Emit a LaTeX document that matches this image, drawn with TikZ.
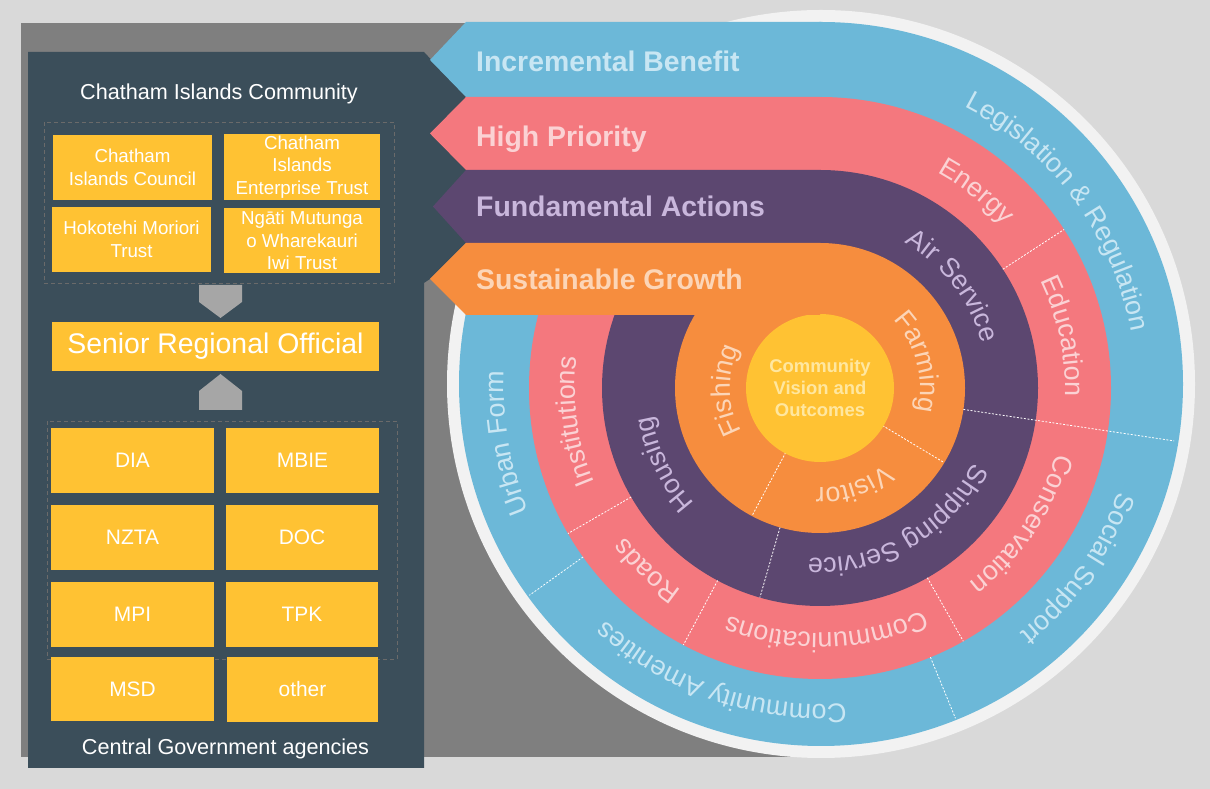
\documentclass[tikz,border=0pt]{standalone}
\usepackage{fontspec}
\setmainfont{Liberation Sans}
\usetikzlibrary{decorations.text}
\definecolor{bg}{HTML}{D9D9D9}
\definecolor{grayR}{HTML}{7F7F7F}
\definecolor{panel}{HTML}{3B4E5A}
\definecolor{yel}{HTML}{FFC233}
\definecolor{arrowG}{HTML}{A6A6A6}
\definecolor{dashG}{HTML}{6A6A6A}
\definecolor{ringW}{HTML}{F2F2F2}
\definecolor{bandB}{HTML}{6CB8D8}
\definecolor{bandP}{HTML}{F4787E}
\definecolor{bandU}{HTML}{5C4770}
\definecolor{bandO}{HTML}{F68D3E}
\definecolor{txtB}{HTML}{C8E6F3}
\definecolor{txtP}{HTML}{FBD2D4}
\definecolor{txtU}{HTML}{C9B7DC}
\definecolor{txtO}{HTML}{FCD5B7}
\definecolor{txtY}{HTML}{FFE7A0}
\newcommand\ringfont{\fontsize{27}{32}\selectfont}
\newcommand\ringtext[4]{\path[decorate,decoration={text along path,text align=center,text={|\ringfont\color{#3}|#4}}] ([shift={(#2+70:#1)}]820,401) arc[start angle=#2+70,end angle=#2-70,radius=#1];}
\begin{document}
\begin{tikzpicture}[x=1bp,y=1bp,
  ybox/.style={fill=yel,text=white,inner sep=0pt,align=center},
  smallbox/.style={ybox,font=\fontsize{18.8}{22.5}\selectfont},
  agbox/.style={ybox,font=\fontsize{21}{25}\selectfont},
  dashbox/.style={draw=dashG,line width=0.8bp,dash pattern=on 4bp off 3bp},
  title/.style={text=white,inner sep=0pt,anchor=base,font=\fontsize{21.7}{26}\selectfont},
  banner/.style={inner sep=0pt,anchor=base west,font=\bfseries\fontsize{28.5}{34}\selectfont},
  sep/.style={draw=white,line width=0.8bp,dash pattern=on 2bp off 1.6bp}]
\useasboundingbox (0,0) rectangle (1210,789);
\fill[bg] (0,0) rectangle (1210,789);
\begin{scope}[yshift=789bp,y=-1bp]
  \fill[grayR] (21,22.6) rectangle (821,757);
\end{scope}
% rings
\fill[ringW] (821,405) circle[radius=374];
\fill[bandB] (821,405) circle[radius=362];
\fill[bandP] (820,401) circle[radius=291];
\fill[bandU] (820,401) circle[radius=218];
\fill[bandO] (820,401) circle[radius=145];
\begin{scope}[shift={(820,401)}]
  \draw[sep] (33:218) -- (33:291);
  \draw[sep] (-8.5:145) -- (-8.5:358);
  \draw[sep] (-31:73) -- (-31:145);
  \draw[sep] (-118:73) -- (-118:145);
  \draw[sep] (-106:145) -- (-106:218);
  \draw[sep] (-150:218) -- (-150:291);
  \draw[sep] (-118:218) -- (-118:291);
  \draw[sep] (-60.5:218) -- (-60.5:291);
  \draw[sep] (-144.5:291) -- (-144.5:357);
  \draw[sep] (-67.7:291) -- (-67.7:357);
\end{scope}
\node[circle,fill=yel,minimum size=148bp,inner sep=0pt,align=center,text=txtY,font=\bfseries\fontsize{18.5}{22}\selectfont] (core) at (820,401) {Community\\Vision and\\Outcomes};
% left panel and strips
\begin{scope}[yshift=789bp,y=-1bp]
  \fill[panel] (28,52) -- (424,52) -- (466,97) -- (466,243) -- (430,279) -- (424,283) -- (424,768) -- (28,768) -- cycle;
  \draw[dashbox] (44,122) rectangle (394,283);
  \draw[dashbox] (47,421) rectangle (397,659);
  \fill[arrowG] (199,285) -- (242,285) -- (242,302) -- (220.5,318) -- (199,302) -- cycle;
  \fill[arrowG] (199,410) -- (242,410) -- (242,391) -- (220.5,374) -- (199,391) -- cycle;
  \node[title] (community) at (219,100) {Chatham Islands Community};
  \node[title] (central) at (225.5,755) {Central Government agencies};
  \node[smallbox,minimum width=159bp,minimum height=65bp] (cic) at (132.5,167.5) {Chatham\\Islands Council};
  \node[smallbox,minimum width=156bp,minimum height=66bp] (ciet) at (302,167) {Chatham\\Islands\\Enterprise Trust};
  \node[smallbox,minimum width=159bp,minimum height=65bp] (hmt) at (131.5,239.5) {Hokotehi Moriori\\Trust};
  \node[smallbox,minimum width=156bp,minimum height=65bp] (nmw) at (302,240.5) {Ngāti Mutunga\\o Wharekauri\\Iwi Trust};
  \node[ybox,minimum width=327bp,minimum height=49bp,font=\fontsize{28.5}{34}\selectfont] (sro) at (215.5,346.5) {Senior Regional Official};
  \node[agbox,minimum width=163bp,minimum height=65bp] (dia) at (132.5,460.5) {DIA};
  \node[agbox,minimum width=153bp,minimum height=65bp] (mbie) at (302.5,460.5) {MBIE};
  \node[agbox,minimum width=163bp,minimum height=65bp] (nzta) at (132.5,537.5) {NZTA};
  \node[agbox,minimum width=152bp,minimum height=65bp] (doc) at (302,537.5) {DOC};
  \node[agbox,minimum width=163bp,minimum height=65bp] (mpi) at (132.5,614.5) {MPI};
  \node[agbox,minimum width=152bp,minimum height=65bp] (tpk) at (302,614.5) {TPK};
  \node[agbox,minimum width=163bp,minimum height=64bp] (msd) at (132.5,689) {MSD};
  \node[agbox,minimum width=151bp,minimum height=65bp] (other) at (302.5,689.5) {other};
  % strips
  \fill[bandB] (466,22) -- (821,22) -- (821,97) -- (466,97) -- (430,60) -- cycle;
  \fill[bandP] (466,97) -- (820,97) -- (820,170) -- (466,170) -- (430,133.5) -- cycle;
  \fill[bandU] (466,170) -- (820,170) -- (820,243) -- (466,243) -- (433,206.5) -- cycle;
  \fill[bandO] (466,243) -- (820,243) -- (820,315) -- (466,315) -- (430,279) -- cycle;
  \node[banner,text=txtB] (incr) at (476,72) {Incremental Benefit};
  \node[banner,text=txtP] (high) at (476,146.5) {High Priority};
  \node[banner,text=txtU] (fund) at (476,216.5) {Fundamental Actions};
  \node[banner,text=txtO] (sust) at (476,290) {Sustainable Growth};
\end{scope}
% ring labels
\ringtext{316}{36.5}{txtB}{Legislation {\&} Regulation}
\ringtext{316}{-35}{txtB}{Social Support}
\ringtext{316}{-109}{txtB}{Community Amenities}
\ringtext{316}{190}{txtB}{Urban Form}
\ringtext{245}{51.5}{txtP}{Energy}
\ringtext{245}{12}{txtP}{Education}
\ringtext{245}{-34}{txtP}{Conservation}
\ringtext{245}{-88.5}{txtP}{Communications}
\ringtext{245}{226.5}{txtP}{Roads}
\ringtext{245}{187.7}{txtP}{Institutions}
\ringtext{168}{37.5}{txtU}{Air Service}
\ringtext{170}{-60}{txtU}{Shipping Service}
\ringtext{170}{206}{txtU}{Housing}
\ringtext{100}{15}{txtO}{Farming}
\ringtext{100}{-71}{txtO}{Visitor}
\ringtext{90}{181.5}{txtO}{Fishing}
\end{tikzpicture}
\end{document}
